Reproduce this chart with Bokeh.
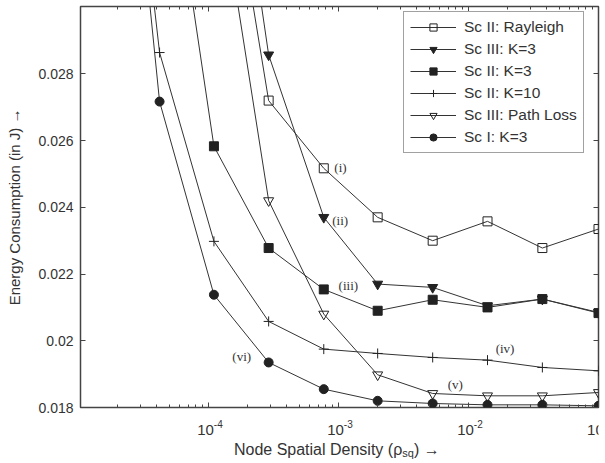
from bokeh.plotting import figure
from bokeh.models import (Range1d, FixedTicker, LogAxis, LinearAxis,
                          Legend, LegendItem)
from bokeh.layouts import column
from bokeh.core.properties import value
from bokeh.embed import file_html
from bokeh.resources import INLINE

# ---- data ----
rayleigh_x = [1.1e-4, 2.9e-4, 7.7e-4, 2.0e-3, 5.3e-3, 1.4e-2, 3.7e-2, 1.0e-1]
rayleigh_y = [0.0372, 0.0272, 0.02517, 0.0237, 0.0230, 0.02358, 0.02278, 0.02335]

sc3k3_x = [1.1e-4, 2.9e-4, 7.7e-4, 2.0e-3, 5.3e-3, 1.4e-2, 3.7e-2, 1.0e-1]
sc3k3_y = [0.0398, 0.02857, 0.0237, 0.0217, 0.0216, 0.02105, 0.02125, 0.02085]

sc2k3_x = [4.2e-5, 1.1e-4, 2.9e-4, 7.7e-4, 2.0e-3, 5.3e-3, 1.4e-2, 3.7e-2, 1.0e-1]
sc2k3_y = [0.0368, 0.02583, 0.02278, 0.02154, 0.0209, 0.02123, 0.0210, 0.02125, 0.02083]

sc2k10_x = [1.6e-5, 4.2e-5, 1.1e-4, 2.9e-4, 7.7e-4, 2.0e-3, 5.3e-3, 1.4e-2, 3.7e-2, 1.0e-1]
sc2k10_y = [0.0430, 0.02864, 0.02298, 0.02058, 0.01975, 0.01962, 0.0195, 0.01942, 0.0192, 0.0191]

pathloss_x = [1.1e-4, 2.9e-4, 7.7e-4, 2.0e-3, 5.3e-3, 1.4e-2, 3.7e-2, 1.0e-1]
pathloss_y = [0.03463, 0.0242, 0.0208, 0.01898, 0.01842, 0.01835, 0.01835, 0.01845]

sc1k3_x = [1.6e-5, 4.2e-5, 1.1e-4, 2.9e-4, 7.7e-4, 2.0e-3, 5.3e-3, 1.4e-2, 3.7e-2, 1.0e-1]
sc1k3_y = [0.0434, 0.02717, 0.02138, 0.01935, 0.01855, 0.0182, 0.01812, 0.01808, 0.01808, 0.01805]

series_names = ["Sc II: Rayleigh", "Sc III: K=3", "Sc II: K=3", "Sc II: K=10",
                "Sc III: Path Loss", "Sc I: K=3"]

note_text = ["(i)", "(ii)", "(iii)", "(iv)", "(v)", "(vi)"]
note_x = [1.035e-3, 1.03e-3, 1.19e-3, 1.91e-2, 7.9e-3, 1.80e-4]
note_y = [0.02519, 0.0236, 0.02165, 0.01978, 0.01868, 0.01952]

x_ticks = [1e-4, 1e-3, 1e-2, 1e-1]
x_tick_base = ["10", "10", "10", "10"]
x_tick_exp = ["-4", "-3", "-2", "-1"]
x_minor = [m * 10.0 ** e for e in range(-5, -1) for m in range(2, 10)]
y_ticks = [0.018, 0.020, 0.022, 0.024, 0.026, 0.028]
y_tick_labels = ["0.018", "0.02", "0.022", "0.024", "0.026", "0.028"]

# x axis title pieces (main text, subscript, tail)
xl_text = ["Node Spatial Density (\u03c1", "sq", ") \u2192"]

INK = "#222222"
GREY = "#444444"
TXT = "#333333"
FONT = "Liberation Sans"

LEFT_B, RIGHT_B = 80, 7
x_range = Range1d(1.035e-5, 0.1)

p = figure(frame_width=518, frame_height=401, x_axis_type="log",
           x_range=x_range, y_range=Range1d(0.018, 0.03002),
           output_backend="svg", toolbar_location=None,
           min_border_left=LEFT_B, min_border_right=RIGHT_B, min_border_top=6,
           min_border_bottom=10)
p.background_fill_color = "white"
p.border_fill_color = "white"
p.outline_line_color = GREY
p.outline_line_width = 1.5
p.grid.visible = False

def style_axis(ax, labels=True):
    ax.axis_line_color = None
    ax.major_tick_in = 5
    ax.major_tick_out = 0
    ax.minor_tick_in = 3
    ax.minor_tick_out = 0
    ax.major_tick_line_color = GREY
    ax.minor_tick_line_color = GREY
    ax.major_label_text_font = FONT
    ax.major_label_text_color = TXT
    if not labels:
        ax.major_label_text_color = None
        ax.major_label_text_font_size = "1px"
        ax.major_label_standoff = 0

# bottom x axis (ticks only; labels drawn in the strip below)
xa = p.xaxis[0]
xa.ticker = FixedTicker(ticks=x_ticks, minor_ticks=x_minor)
style_axis(xa, labels=False)

# left y axis
ya = p.yaxis[0]
ya.ticker = FixedTicker(ticks=y_ticks)
ya.major_label_overrides = {t: s for t, s in zip(y_ticks, y_tick_labels)}
style_axis(ya)
ya.major_label_text_font_size = "14px"
ya.major_label_standoff = 7
ya.axis_label = "Energy Consumption (in J) \u2192"
ya.axis_label_text_font = FONT
ya.axis_label_text_font_size = "15px"
ya.axis_label_text_font_style = "normal"
ya.axis_label_text_color = TXT
ya.axis_label_standoff = 12

# top and right axes (ticks only)
top = LogAxis(ticker=FixedTicker(ticks=x_ticks, minor_ticks=x_minor))
style_axis(top, labels=False)
p.add_layout(top, "above")
right = LinearAxis(ticker=FixedTicker(ticks=y_ticks))
style_axis(right, labels=False)
p.add_layout(right, "right")

# series
specs = [
    (rayleigh_x, rayleigh_y, "square", 9, None),
    (sc3k3_x, sc3k3_y, "inverted_triangle", 10, INK),
    (sc2k3_x, sc2k3_y, "square", 9, INK),
    (sc2k10_x, sc2k10_y, "cross", 10, None),
    (pathloss_x, pathloss_y, "inverted_triangle", 10, None),
    (sc1k3_x, sc1k3_y, "circle", 9, INK),
]
items = []
for (xs, ys, marker, size, fill), name in zip(specs, series_names):
    lr = p.line(xs, ys, line_color=TXT, line_width=1)
    sr = p.scatter(xs, ys, marker=marker, size=size, line_color=INK,
                   line_width=1, fill_color=fill if fill else "white",
                   fill_alpha=1 if fill else 0)
    items.append(LegendItem(label=name, renderers=[lr, sr]))

legend = Legend(items=items, location=(323, 254), orientation="vertical")
legend.label_text_font = FONT
legend.label_text_font_size = "15.5px"
legend.label_text_color = TXT
legend.glyph_width = 46
legend.glyph_height = 18
legend.label_height = 18
legend.spacing = 4
legend.padding = 6
legend.label_standoff = 8
legend.margin = 0
legend.border_line_color = GREY
legend.border_line_width = 1.5
legend.background_fill_color = "white"
legend.background_fill_alpha = 1
p.add_layout(legend)

# curve annotations
p.text(x=note_x, y=note_y, text=note_text, text_font=value("Liberation Serif"),
       text_font_size="13px", text_color=TXT, text_align="center",
       text_baseline="middle")

# strip below the plot: tick labels and x axis title, sharing the x scale
STRIP_H = 46
p2 = figure(width=605, height=STRIP_H, x_axis_type="log",
            x_range=x_range, y_range=Range1d(0, STRIP_H),
            output_backend="svg", toolbar_location=None,
            x_axis_location=None, y_axis_location=None,
            min_border_left=LEFT_B, min_border_right=RIGHT_B,
            min_border_top=0, min_border_bottom=0)
p2.outline_line_color = None
p2.grid.visible = False
p2.background_fill_color = "white"
p2.border_fill_color = "white"

p2.text(x=x_ticks, y=[34] * len(x_ticks), text=x_tick_base, x_offset=5.3,
        text_font=value(FONT), text_font_size="15px", text_color=TXT,
        text_align="right", text_baseline="alphabetic")
p2.text(x=x_ticks, y=[39.5] * len(x_ticks), text=x_tick_exp, x_offset=5.3,
        text_font=value(FONT), text_font_size="10px", text_color=TXT,
        text_align="left", text_baseline="alphabetic")

title_anchor = [1e-3]
p2.text(x=title_anchor, y=[14.5], text=[xl_text[0]], x_offset=63.7,
        text_font=value(FONT), text_font_size="16px", text_color=TXT,
        text_align="right", text_baseline="alphabetic")
p2.text(x=title_anchor, y=[11], text=[xl_text[1]], x_offset=63.7,
        text_font=value(FONT), text_font_size="11px", text_color=TXT,
        text_align="left", text_baseline="alphabetic")
p2.text(x=title_anchor, y=[14.5], text=[xl_text[2]], x_offset=75.5,
        text_font=value(FONT), text_font_size="16px", text_color=TXT,
        text_align="left", text_baseline="alphabetic")

layout = column(p, p2, spacing=0)
open("out.html", "w").write(file_html(layout, INLINE))
